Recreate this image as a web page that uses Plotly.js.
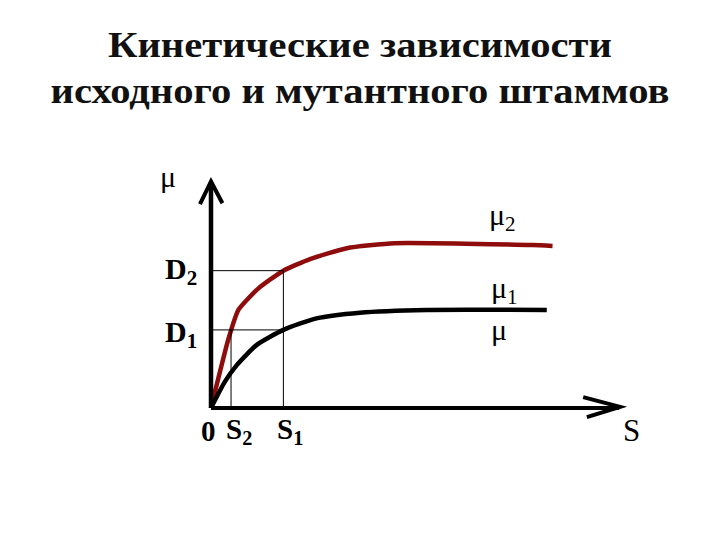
<!DOCTYPE html>
<html>
<head>
<meta charset="utf-8">
<script src="https://cdn.plot.ly/plotly-3.0.1.min.js"></script>
<style>html,body{margin:0;padding:0;background:#fff;}</style>
</head>
<body>
<div id="chart" style="width:720px;height:540px;"></div>
<script>
// Substrate concentration S (arbitrary units) and growth rate mu
const redS   = [0, 0.42, 0.67, 1.16, 1.77, 2.42, 3.32, 4.49, 7.86, 8.35];
const redMu  = [0, 3.0, 4.32, 5.27, 6.05, 6.56, 7.04, 7.26, 7.18, 7.14];
const blackS  = [0, 0.34, 0.63, 1.12, 1.77, 2.58, 3.64, 5.27, 8.21];
const blackMu = [0, 1.16, 1.89, 2.78, 3.44, 3.95, 4.20, 4.32, 4.32];
const D1 = 3.44, D2 = 6.05, S1 = 1.77, S2 = 0.49;
const titleLines = ["Кинетические зависимости", "исходного и мутантного штаммов"];

const serif = "Liberation Serif, Times New Roman, serif";
const red = "#8e0c0c";

const traces = [
  {x: redS, y: redMu, mode: "lines", line: {color: red, width: 4.5, shape: "spline", smoothing: 0.5}, hoverinfo: "skip"},
  {x: blackS, y: blackMu, mode: "lines", line: {color: "#000", width: 4.5, shape: "spline", smoothing: 0.6}, hoverinfo: "skip"}
];

const thin = {color: "#000", width: 1};
const shapes = [
  // guide lines
  {type: "line", xref: "x", yref: "y", x0: 0, y0: D2, x1: S1, y1: D2, line: thin},
  {type: "line", xref: "x", yref: "y", x0: 0, y0: D1, x1: S1, y1: D1, line: thin},
  {type: "line", xref: "x", yref: "y", x0: S1, y0: 0, x1: S1, y1: D2, line: thin},
  {type: "line", xref: "x", yref: "y", x0: S2, y0: 0, x1: S2, y1: D1, line: thin},
  // axes
  {type: "line", xref: "x", yref: "y", x0: 0, y0: 0, x1: 0, y1: 9.95, line: {color: "#000", width: 4.5}},
  {type: "line", xref: "x", yref: "y", x0: 0, y0: 0, x1: 9.98, y1: 0, line: {color: "#000", width: 4}},
  // arrow heads
  {type: "path", xref: "x", yref: "y", path: "M -0.27 8.98 L 0 9.98 L 0.28 9.02", line: {color: "#000", width: 4}},
  {type: "path", xref: "x", yref: "y", path: "M 9.10 0.48 L 10.0 0.05 L 9.19 -0.40", line: {color: "#000", width: 4}}
];

function ann(x, y, text, size, bold, xanchor) {
  return {x: x, y: y, xref: "x", yref: "y", text: bold ? "<b>" + text + "</b>" : text,
    showarrow: false, xanchor: xanchor || "center", yanchor: "middle",
    font: {family: serif, size: size, color: "#000"}};
}

const annotations = [
  ann(-1.05, 10.2, "μ", 30, false),
  ann(-0.73, 6.05, "D<sub>2</sub>", 30, true),
  ann(-0.73, 3.25, "D<sub>1</sub>", 30, true),
  ann(6.75, 8.4, "μ<sub>2</sub>", 30, false, "left"),
  ann(6.8, 5.2, "μ<sub>1</sub>", 30, false, "left"),
  ann(6.8, 3.44, "μ", 30, false, "left"),
  ann(-0.06, -1.0, "0", 29, true),
  ann(0.68, -1.0, "S<sub>2</sub>", 29, true),
  ann(1.93, -1.0, "S<sub>1</sub>", 29, true),
  ann(10.28, -0.97, "S", 31, false)
];

const layout = {
  width: 720, height: 540,
  margin: {l: 0, r: 0, t: 0, b: 0},
  paper_bgcolor: "#fff", plot_bgcolor: "#fff",
  showlegend: false,
  title: {text: titleLines.join("<br>"), x: 0.5, xanchor: "center", y: 0.894, yanchor: "top",
          font: {family: serif, size: 35, color: "#111", weight: "bold"}},
  xaxis: {range: [-211/40.9, (720-211)/40.9], visible: false, fixedrange: true},
  yaxis: {range: [(408-540)/22.7, 408/22.7], visible: false, fixedrange: true},
  shapes: shapes,
  annotations: annotations
};

Plotly.newPlot("chart", traces, layout, {staticPlot: true, displayModeBar: false}).then(function (gd) {
  // the reference slide is horizontally stretched: widen the title glyphs
  gd.querySelectorAll(".gtitle").forEach(function (t) {
    t.style.transformOrigin = "360px 0px";
    t.style.transform = "scaleX(1.16)";
  });
});
</script>
</body>
</html>
